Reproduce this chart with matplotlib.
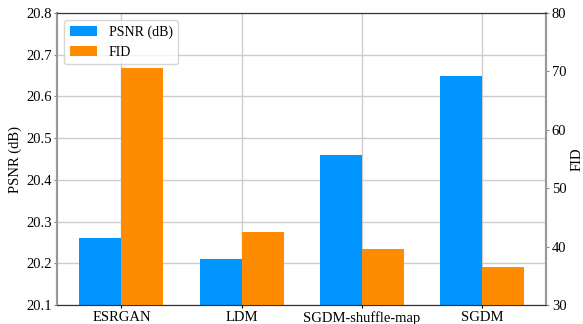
import numpy as np
import matplotlib.pyplot as plt

plt.rcParams['font.family'] = ['Liberation Serif', 'DejaVu Serif']

methods = ['ESRGAN', 'LDM', 'SGDM-shuffle-map', 'SGDM']
psnr = [20.26, 20.21, 20.46, 20.65]
fid = [70.6, 42.45, 39.6, 36.6]

x = np.arange(len(methods))
w = 0.35

fig, ax1 = plt.subplots(figsize=(5.83, 3.24), dpi=100)
ax1.set_axisbelow(True)
ax1.grid(True, color='#cccccc', linewidth=1)
b1 = ax1.bar(x - w / 2, psnr, w, color='#0095FF', label='PSNR (dB)')
ax1.set_ylim(20.1, 20.8)
ax1.set_ylabel('PSNR (dB)', fontsize=10.5, labelpad=3)
ax1.set_xticks(x)
ax1.set_xticklabels(methods, fontsize=10.5)
ax1.tick_params(axis='y', labelsize=10.5, length=2, pad=2, color='#888888')
ax1.tick_params(axis='x', length=2, pad=2)

ax2 = ax1.twinx()
b2 = ax2.bar(x + w / 2, fid, w, color='#FF8C00', label='FID')
ax2.set_ylim(30, 80)
ax2.set_ylabel('FID', fontsize=10.5, labelpad=3)
ax2.tick_params(axis='y', labelsize=10.5, length=2, pad=2, color='#888888')

for ax in (ax1, ax2):
    ax.spines['left'].set_color('#999999')
    ax.spines['right'].set_color('#999999')
    ax.spines['left'].set_linewidth(1.5)
    ax.spines['right'].set_linewidth(1.5)
    ax.spines['top'].set_color('#333333')
    ax.spines['bottom'].set_color('#333333')

ax1.legend([b1, b2], ['PSNR (dB)', 'FID'], loc='upper left', fontsize=10,
           handlelength=2, fancybox=True)

fig.subplots_adjust(left=0.098, right=0.937, top=0.96, bottom=0.058)
fig.savefig('out.png', dpi=100)
